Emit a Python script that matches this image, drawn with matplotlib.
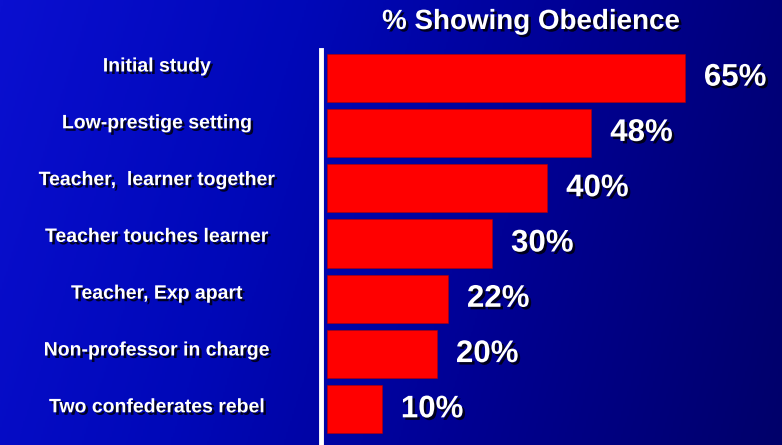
import numpy as np
import matplotlib
matplotlib.use("Agg")
import matplotlib.pyplot as plt
import matplotlib.patheffects as pe
from matplotlib.colors import LinearSegmentedColormap

# data
conditions = ["Initial study", "Low-prestige setting", "Teacher,  learner together",
              "Teacher touches learner", "Teacher, Exp apart",
              "Non-professor in charge", "Two confederates rebel"]
obedience = [65, 48, 40, 30, 22, 20, 10]
title = "% Showing Obedience"

W, H = 782, 445
fig = plt.figure(figsize=(W / 100, H / 100), dpi=100)

# blue gradient background (bright left -> navy right)
bg = fig.add_axes([0, 0, 1, 1], zorder=-10)
cmap = LinearSegmentedColormap.from_list("bg", ["#0a0fd0", "#0008b8", "#000090", "#00006a"])
gx = np.linspace(0, 1, 400)
gy = np.linspace(0, 1, 200)
grad = gx[None, :] * 0.85 + (1 - gy[:, None]) * 0.15
bg.imshow(grad, cmap=cmap, aspect="auto", extent=[0, 1, 0, 1], origin="lower")
bg.axis("off")

shadow = [pe.withSimplePatchShadow(offset=(1.8, -1.8), shadow_rgbFace="black", alpha=0.8)]

# bar axes, placed in pixel terms
x0, x1 = 327, 760
ytop, ybot = 50, 437
ax = fig.add_axes([x0 / W, 1 - ybot / H, (x1 - x0) / W, (ybot - ytop) / H])
ax.set_facecolor("none")
ypos = np.arange(len(conditions))
ax.barh(ypos, obedience, height=0.87, color="#ff0000", edgecolor="#b00000", linewidth=0.4)
ax.set_xlim(0, (x1 - x0) / 5.51)
ax.set_ylim(len(conditions) - 0.5, -0.5)
ax.axis("off")

for y, v, name in zip(ypos, obedience, conditions):
    ax.text(v + 3.4, y, f"{v}%", color="white", fontsize=22.5, fontweight="bold",
            family="Liberation Sans", va="center", ha="left", path_effects=shadow)
    fig.text(157 / W, 1 - (67 + y * 56.8) / H, name,
             color="white", fontsize=14, fontweight="bold", family="Liberation Sans",
             ha="center", va="center", path_effects=shadow)

# white axis line
fig.add_artist(plt.Line2D([321 / W, 321 / W], [0, 1 - 50 / H], color="white", lw=3.5))

fig.text(531 / W, 1 - 22 / H, title, color="white", fontsize=20, fontweight="bold",
         family="Liberation Sans", ha="center", va="center", path_effects=shadow)

fig.savefig("out.png", dpi=100)
